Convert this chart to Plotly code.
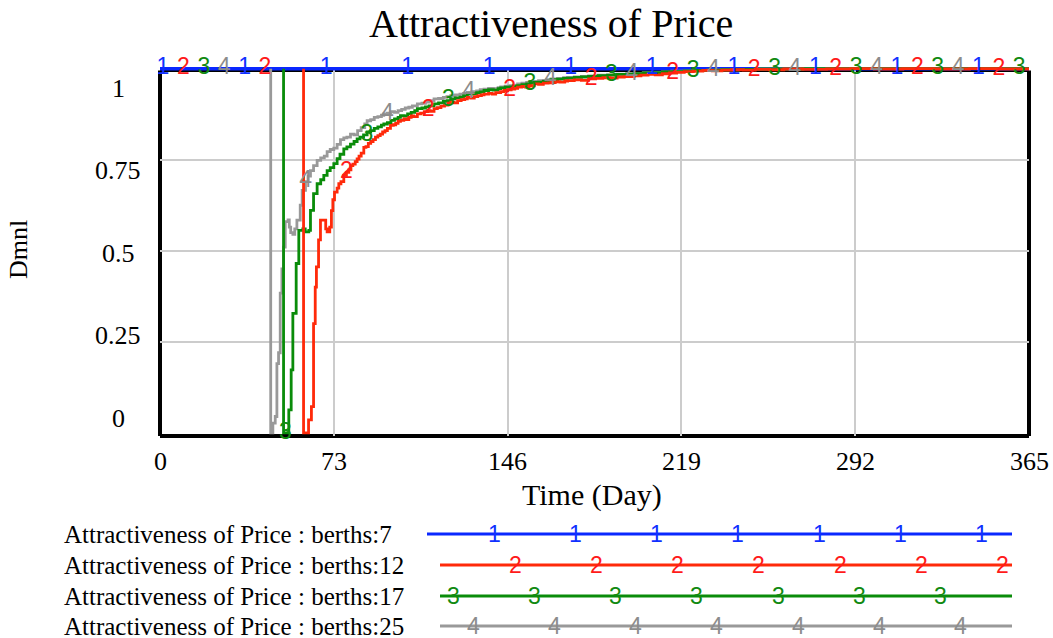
import plotly.graph_objects as go

# ---------------- data ----------------
x_ticks = [0, 73, 146, 219, 292, 365]
y_grid = [0.25, 0.5, 0.75]
y_tick_labels = ["1", "0.75", "0.5", "0.25", "0"]

names = ["Attractiveness of Price : berths:7",
         "Attractiveness of Price : berths:12",
         "Attractiveness of Price : berths:17",
         "Attractiveness of Price : berths:25"]
markers = ["1", "2", "3", "4"]

b7_days = [0, 365]
b7_vals = [1.0, 1.0]

b12_days = [60.3, 60.3, 62.4, 63.6, 64.5, 65.2, 65.7, 66.6, 67.4, 69.6, 70.2, 71.3, 72.0, 72.6, 73.3,
            74.4, 75.1, 76.0, 77.2, 78.3, 79.3, 80.2, 81.0, 82.0, 82.8, 83.6, 84.5, 85.6, 86.5, 87.5,
            88.5, 89.5, 90.5, 91.5, 92.5, 93.5, 94.5, 95.5, 96.8, 98.0, 99.0, 100.0, 101.0, 102.4,
            103.5, 104.5, 105.5, 106.5, 108.1, 109.5, 111.0, 112.5, 113.5, 115.1, 116.5, 118.0, 119.5,
            121.0, 122.1, 123.5, 125.0, 126.5, 128.0, 129.1, 130.5, 132.0, 133.5, 135.0, 136.1, 138.0,
            139.5, 141.0, 143.1, 144.5, 146.0, 147.5, 149.0, 150.2, 152.0, 153.5, 155.0, 157.2, 159.0,
            161.0, 163.0, 164.2, 166.0, 168.0, 170.0, 171.2, 174.0, 177.0, 180.0, 183.0, 186.0, 189.0,
            192.0, 195.0, 199.1, 202.0, 205.0, 208.0, 211.0, 214.0, 217.0, 220.2, 224.0, 228.0, 232.0,
            236.0, 240.0, 245.0, 250.0, 256.0, 262.0, 270.0, 280.0, 290.0, 300.0, 312.0, 325.0, 340.0,
            352.0, 365.0]
b12_vals = [1.0, 0.0, 0.036, 0.072, 0.30, 0.40, 0.456, 0.53, 0.584, 0.56, 0.552, 0.565, 0.61, 0.64, 0.661,
            0.672, 0.684, 0.69, 0.707, 0.715, 0.722, 0.734, 0.738, 0.745, 0.752, 0.76, 0.768, 0.784, 0.786, 0.795,
            0.80, 0.805, 0.812, 0.816, 0.82, 0.826, 0.83, 0.836, 0.844, 0.846, 0.85, 0.855, 0.858, 0.862,
            0.86, 0.866, 0.87, 0.868, 0.876, 0.878, 0.882, 0.885, 0.883, 0.89, 0.893, 0.897, 0.90,
            0.905, 0.908, 0.906, 0.912, 0.915, 0.917, 0.921, 0.919, 0.923, 0.926, 0.928, 0.93, 0.932,
            0.93, 0.934, 0.937, 0.94, 0.942, 0.944, 0.946, 0.949, 0.951, 0.949, 0.953, 0.958, 0.957,
            0.96, 0.961, 0.962, 0.964, 0.963, 0.966, 0.967, 0.969, 0.968, 0.972, 0.973, 0.975, 0.974,
            0.977, 0.978, 0.98, 0.982, 0.984, 0.983, 0.986, 0.988, 0.99, 0.992, 0.993, 0.995, 0.994,
            0.996, 0.997, 0.996, 0.998, 0.997, 0.999, 0.998, 0.999, 1.0, 0.999, 1.0, 0.999, 1.0,
            0.999, 1.0]

b17_days = [51.9, 51.9, 54.1, 55.1, 55.8, 57.2, 58.3, 60.0, 61.0, 62.5, 63.2, 64.5, 66.0, 67.5, 68.8,
            70.2, 71.5, 73.0, 74.4, 75.6, 77.2, 78.5, 80.0, 81.5, 82.8, 84.0, 85.5, 87.0, 88.5, 90.0,
            91.5, 93.0, 94.0, 95.5, 97.0, 98.5, 100.0, 101.0, 102.5, 104.0, 105.5, 107.0, 108.1, 110.0,
            111.5, 113.0, 115.1, 117.0, 119.0, 120.5, 122.1, 124.0, 126.0, 127.5, 129.1, 131.0, 133.0,
            134.5, 136.1, 138.0, 140.0, 142.0, 143.1, 145.0, 147.0, 148.5, 150.2, 152.0, 154.0, 155.5,
            157.2, 159.0, 161.0, 162.5, 164.2, 167.0, 169.5, 171.2, 174.0, 177.0, 180.0, 184.0, 188.0,
            192.0, 196.0, 199.1, 203.0, 207.0, 211.0, 215.0, 220.2, 225.0, 230.0, 236.0, 243.0, 250.0,
            260.0, 270.0, 365.0]
b17_vals = [1.0, 0.0, 0.063, 0.173, 0.328, 0.465, 0.556, 0.56, 0.552, 0.556, 0.611, 0.657, 0.684, 0.695, 0.707,
            0.72, 0.728, 0.739, 0.753, 0.765, 0.78, 0.785, 0.793, 0.80, 0.807, 0.812, 0.818, 0.826, 0.83, 0.836,
            0.84, 0.845, 0.848, 0.852, 0.858, 0.862, 0.866, 0.871, 0.87, 0.876, 0.88, 0.885, 0.89, 0.892,
            0.895, 0.898, 0.903, 0.906, 0.91, 0.912, 0.917, 0.92, 0.922, 0.925, 0.93, 0.931, 0.934,
            0.936, 0.94, 0.942, 0.941, 0.945, 0.947, 0.949, 0.95, 0.952, 0.953, 0.956, 0.958, 0.96,
            0.962, 0.963, 0.965, 0.967, 0.97, 0.971, 0.973, 0.974, 0.976, 0.977, 0.979, 0.981, 0.982,
            0.984, 0.985, 0.986, 0.988, 0.989, 0.991, 0.992, 0.994, 0.995, 0.996, 0.997, 0.998, 0.999,
            0.999, 1.0, 1.0]

b25_days = [46.5, 46.5, 47.4, 48.4, 49.1, 49.8, 50.5, 51.2, 51.9, 52.6, 53.8, 54.3, 54.9, 55.8, 56.6,
            57.5, 58.9, 59.7, 61.1, 62.2, 63.2, 64.5, 66.0, 67.5, 69.0, 70.2, 71.5, 73.0, 74.4, 75.8,
            77.2, 78.5, 80.0, 81.5, 83.0, 84.5, 86.0, 87.0, 88.5, 90.0, 91.5, 93.0, 94.0, 95.5, 97.0,
            98.5, 100.0, 101.5, 103.0, 104.5, 106.0, 108.1, 110.0, 111.5, 113.0, 115.1, 117.0, 119.0,
            120.5, 122.1, 124.0, 126.0, 127.5, 129.1, 131.0, 133.0, 134.5, 136.1, 138.0, 140.0, 142.0,
            143.1, 145.0, 147.0, 148.5, 150.2, 152.0, 154.0, 155.5, 157.2, 159.0, 161.0, 162.5, 164.2,
            167.0, 169.5, 171.2, 174.0, 177.0, 180.0, 184.0, 188.0, 192.0, 196.0, 199.1, 203.0, 207.0,
            211.0, 215.0, 220.2, 225.0, 230.0, 236.0, 243.0, 250.0, 260.0, 270.0, 365.0]
b25_vals = [1.0, 0.0, 0.027, 0.045, 0.19, 0.22, 0.384, 0.45, 0.51, 0.58, 0.585, 0.565, 0.55, 0.545, 0.56,
            0.584, 0.625, 0.666, 0.69, 0.705, 0.72, 0.734, 0.748, 0.755, 0.76, 0.772, 0.778, 0.782, 0.792, 0.805,
            0.81, 0.812, 0.82, 0.818, 0.83, 0.838, 0.848, 0.857, 0.86, 0.866, 0.868, 0.872, 0.876, 0.878, 0.882,
            0.88, 0.885, 0.888, 0.892, 0.894, 0.898, 0.903, 0.905, 0.908, 0.912, 0.917, 0.918, 0.921,
            0.923, 0.926, 0.928, 0.93, 0.932, 0.935, 0.937, 0.939, 0.942, 0.944, 0.946, 0.945, 0.948,
            0.95, 0.952, 0.953, 0.955, 0.958, 0.96, 0.962, 0.964, 0.965, 0.967, 0.968, 0.97, 0.972,
            0.973, 0.975, 0.976, 0.977, 0.979, 0.98, 0.982, 0.983, 0.985, 0.986, 0.987, 0.989, 0.99,
            0.991, 0.993, 0.994, 0.995, 0.996, 0.997, 0.998, 0.999, 0.999, 1.0, 1.0]

series_days = [b7_days, b12_days, b17_days, b25_days]
series_vals = [b7_vals, b12_vals, b17_vals, b25_vals]

# ---------------- style / layout ----------------
W, H = 1053, 638
PL, PR, PT, PB = 160, 1029, 67, 436          # plot area in pixels
line_colors = ["#0a28ff", "#ff2a0a", "#0a8c0a", "#999999"]
text_colors = ["#1030ff", "#ff1a1a", "#118a11", "#8c8c8c"]
line_widths = [3.5, 2.8, 2.8, 2.8]
SERIF = "Liberation Serif, Times New Roman, serif"
SANS = "Liberation Sans, Arial, sans-serif"
MARK_SIZE = 23


def px(x, y):
    return (x - PL) / (PR - PL), (PB - y) / (PB - PT)


def value_at(days, vals, d):
    if d < days[0]:
        return 1.0
    v = vals[0]
    for dd, vv in zip(days, vals):
        if dd <= d:
            v = vv
        else:
            break
    return v


fig = go.Figure()

draw_order = [0, 3, 2, 1]
for i in draw_order:
    fig.add_trace(go.Scatter(x=series_days[i], y=series_vals[i], mode="lines",
                             line=dict(color=line_colors[i], width=line_widths[i], shape="hv"),
                             showlegend=False, hoverinfo="skip"))

# number markers along the lines (Vensim style)
m_start, m_offset, m_step = 1.26, 8.57, 34.25
for i in draw_order:
    mdays = []
    d = m_start + i * m_offset
    while d <= 365:
        mdays.append(d)
        d += m_step
    mvals = [value_at(series_days[i], series_vals[i], dd) for dd in mdays]
    fig.add_trace(go.Scatter(x=mdays, y=mvals, mode="text", text=[markers[i]] * len(mdays),
                             textposition="middle center", cliponaxis=False,
                             textfont=dict(family=SANS, size=MARK_SIZE, color=text_colors[i]),
                             showlegend=False, hoverinfo="skip"))

shapes = []
# frame
ty = px(0, 70.5)[1]
for (x0, y0, x1, y1, w) in [(0, 0, 0, ty, 4), (0, 0, 1, 0, 4), (1, 0, 1, ty, 4), (0, ty, 1, ty, 3)]:
    shapes.append(dict(type="line", xref="paper", yref="paper", x0=x0, y0=y0, x1=x1, y1=y1,
                       line=dict(color="black", width=w), layer="between"))

annotations = []
# title
tx, tyy = px(551, 24)
annotations.append(dict(text="Attractiveness of Price", x=tx, y=tyy, xref="paper", yref="paper",
                        showarrow=False, xanchor="center", yanchor="middle",
                        font=dict(family=SERIF, size=40, color="black")))
# y title
ax, ay = px(18, 250)
annotations.append(dict(text="Dmnl", x=ax, y=ay, xref="paper", yref="paper", textangle=-90,
                        showarrow=False, xanchor="center", yanchor="middle",
                        font=dict(family=SERIF, size=26, color="black")))
# x title
ax, ay = px(592, 495)
annotations.append(dict(text="Time (Day)", x=ax, y=ay, xref="paper", yref="paper",
                        showarrow=False, xanchor="center", yanchor="middle",
                        font=dict(family=SERIF, size=30, color="black")))
# x tick labels
for t in x_ticks:
    annotations.append(dict(text=str(t), x=t, y=px(0, 461)[1], xref="x", yref="paper",
                            showarrow=False, xanchor="center", yanchor="middle",
                            font=dict(family=SERIF, size=26, color="black")))
# y tick labels (Vensim spreads them evenly)
ylab_px = [88, 170.5, 253, 335.5, 418]
for lab, yp in zip(y_tick_labels, ylab_px):
    ax, ay = px(118, yp)
    annotations.append(dict(text=lab, x=ax, y=ay, xref="paper", yref="paper",
                            showarrow=False, xanchor="center", yanchor="middle",
                            font=dict(family=SERIF, size=26, color="black")))

# legend
row_y = [534, 565, 596, 626]
line_x0 = [427, 440, 440, 440]
line_x1 = 1012
mark_x0 = [494, 515, 453, 473]
mark_step = 81.3
for i in range(4):
    lx, ly = px(62, row_y[i])
    annotations.append(dict(text=names[i], x=lx, y=ly, xref="paper", yref="paper",
                            showarrow=False, xanchor="left", yanchor="middle",
                            font=dict(family=SERIF, size=25, color="black")))
    x0, y0 = px(line_x0[i], row_y[i])
    x1, _ = px(line_x1, row_y[i])
    shapes.append(dict(type="line", xref="paper", yref="paper", x0=x0, y0=y0, x1=x1, y1=y0,
                       line=dict(color=line_colors[i], width=3)))
    for k in range(7):
        mx, my = px(mark_x0[i] + k * mark_step, row_y[i])
        annotations.append(dict(text=markers[i], x=mx, y=my, xref="paper", yref="paper",
                                showarrow=False, xanchor="center", yanchor="middle",
                                font=dict(family=SANS, size=MARK_SIZE, color=text_colors[i])))

fig.update_layout(
    width=W, height=H,
    margin=dict(l=PL, r=W - PR, t=PT, b=H - PB, pad=0),
    paper_bgcolor="white", plot_bgcolor="white",
    xaxis=dict(range=[0, 365], tickvals=x_ticks[1:-1], showticklabels=False,
               showgrid=True, gridcolor="#cccccc", gridwidth=2, zeroline=False,
               showline=False, ticks=""),
    yaxis=dict(range=[-0.0085, 1.0045], tickvals=y_grid, showticklabels=False,
               showgrid=True, gridcolor="#cccccc", gridwidth=2, zeroline=False,
               showline=False, ticks=""),
    shapes=shapes,
    annotations=annotations,
)

fig.write_html("out.html", config={"displayModeBar": False},
               post_script="document.body.style.margin='0';document.body.style.overflow='hidden';")
